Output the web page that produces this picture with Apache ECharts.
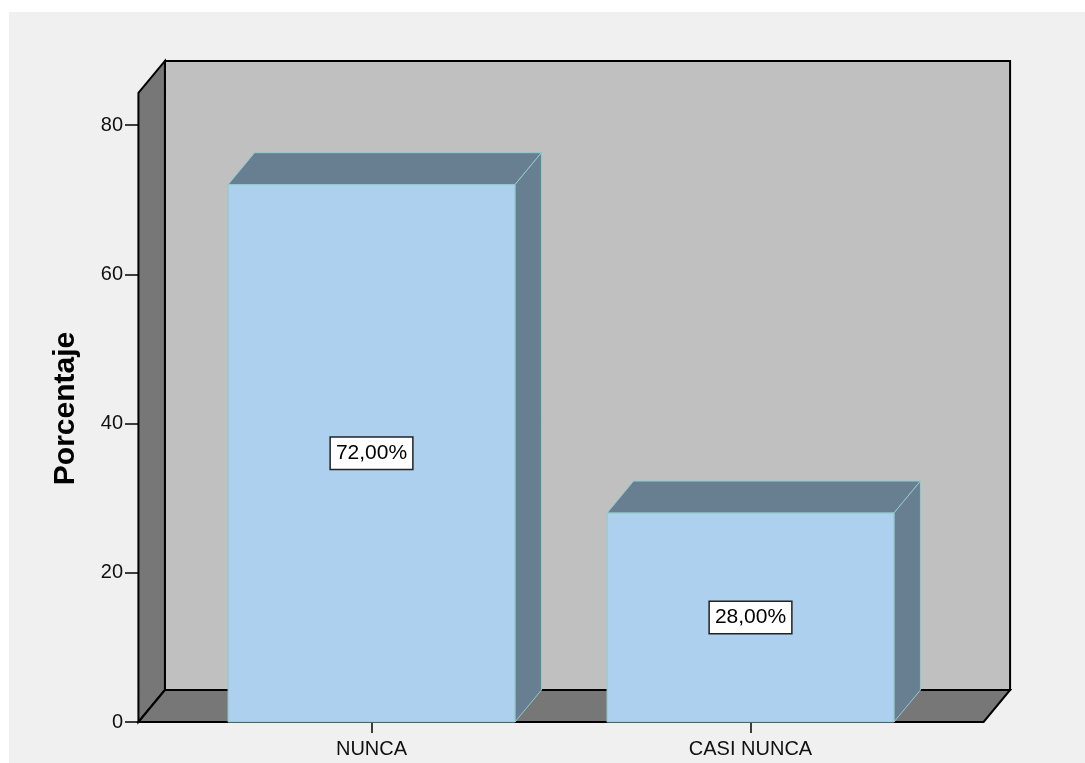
<!DOCTYPE html>
<html>
<head>
<meta charset="utf-8">
<script src="https://cdn.jsdelivr.net/npm/echarts@6/dist/echarts.min.js"></script>
<style>
  html, body { margin: 0; padding: 0; background: #ffffff; }
  #chart { width: 1085px; height: 763px; }
</style>
</head>
<body>
<div id="chart"></div>
<script>
// Porcentaje por categoría
const categories = ['NUNCA', 'CASI NUNCA'];
const percentages = [72, 28];
const yTicks = [0, 20, 40, 60, 80];

// Box decoration: wall height (in axis units) and the oblique depth offset (px)
const WALL_TOP = 84.3;
const DEPTH_X = 26.5;
const DEPTH_Y = -32;
const WALL_OVERHANG = 0.615;   // floor extends this many bands beyond outer categories
const BAR_RATIO = 0.757;       // bar width as a fraction of the band

const FONT = '"Liberation Sans", Arial, sans-serif';

function fmtPct(v) {
  return v.toFixed(2).replace('.', ',') + '%';
}

function renderBox(params, api) {
  const band = api.size([1, 0])[0];
  const first = api.coord([0, 0]);
  const last = api.coord([categories.length - 1, 0]);
  const top = api.coord([0, WALL_TOP])[1];
  const base = first[1];
  const left = first[0] - WALL_OVERHANG * band;
  const right = last[0] + WALL_OVERHANG * band;
  const dx = DEPTH_X, dy = DEPTH_Y;
  const line = { stroke: '#000000', lineWidth: 2, lineJoin: 'miter' };
  return {
    type: 'group',
    children: [
      { // back wall
        type: 'polygon',
        shape: { points: [[left + dx, top + dy], [right + dx, top + dy], [right + dx, base + dy], [left + dx, base + dy]] },
        style: Object.assign({ fill: '#c0c0c0' }, line)
      },
      { // left side wall
        type: 'polygon',
        shape: { points: [[left, top], [left + dx, top + dy], [left + dx, base + dy], [left, base]] },
        style: Object.assign({ fill: '#777777' }, line)
      },
      { // floor
        type: 'polygon',
        shape: { points: [[left, base], [left + dx, base + dy], [right + dx, base + dy], [right, base]] },
        style: Object.assign({ fill: '#777777' }, line)
      }
    ]
  };
}

function renderBar(params, api) {
  const idx = api.value(0);
  const val = api.value(1);
  const topPt = api.coord([idx, val]);
  const basePt = api.coord([idx, 0]);
  const w = api.size([1, 0])[0] * BAR_RATIO;
  const x0 = topPt[0] - w / 2, x1 = topPt[0] + w / 2;
  const yT = topPt[1], yB = basePt[1];
  const dx = DEPTH_X, dy = DEPTH_Y;
  const edge = { stroke: '#93c9cc', lineWidth: 1 };
  return {
    type: 'group',
    children: [
      { // top face
        type: 'polygon',
        shape: { points: [[x0, yT], [x0 + dx, yT + dy], [x1 + dx, yT + dy], [x1, yT]] },
        style: Object.assign({ fill: '#687f92' }, edge)
      },
      { // side face
        type: 'polygon',
        shape: { points: [[x1, yT], [x1 + dx, yT + dy], [x1 + dx, yB + dy], [x1, yB]] },
        style: Object.assign({ fill: '#687f92' }, edge)
      },
      { // front face
        type: 'rect',
        shape: { x: x0, y: yT, width: w, height: yB - yT },
        style: Object.assign({ fill: '#acd0ee' }, edge)
      },
      { // value label
        type: 'text',
        x: topPt[0],
        y: (yT + yB) / 2,
        style: {
          text: fmtPct(val),
          fontFamily: FONT,
          fontSize: 21,
          fill: '#000000',
          align: 'center',
          verticalAlign: 'middle',
          backgroundColor: '#ffffff',
          borderColor: '#222222',
          borderWidth: 1.5,
          padding: [6, 5, 4, 5]
        }
      }
    ]
  };
}

const chart = echarts.init(document.getElementById('chart'), null, { renderer: 'canvas' });

chart.setOption({
  backgroundColor: '#ffffff',
  animation: false,
  graphic: [{
    type: 'rect',
    left: 9, top: 12,
    shape: { width: 1076, height: 751 },
    style: { fill: '#f0f0f0' },
    z: -10
  }],
  grid: { left: 182, right: 145, top: 125, bottom: 41, containLabel: false },
  xAxis: {
    type: 'category',
    data: categories,
    axisLine: { show: false },
    axisTick: { show: true, alignWithLabel: true, length: 11, lineStyle: { color: '#000000', width: 1.5 } },
    axisLabel: { margin: 17, fontFamily: FONT, fontSize: 20, color: '#111111' },
    splitLine: { show: false }
  },
  yAxis: {
    type: 'value',
    min: 0, max: 80, interval: 20,
    offset: 44,
    name: 'Porcentaje',
    nameLocation: 'middle',
    nameGap: 57,
    nameRotate: 90,
    nameTextStyle: { fontFamily: FONT, fontSize: 30, fontWeight: 'bold', color: '#000000', padding: [0, 0, 0, 30] },
    axisLine: { show: false },
    axisTick: { show: true, length: 13, lineStyle: { color: '#000000', width: 1.5 } },
    axisLabel: {
      margin: 15, fontFamily: FONT, fontSize: 20, color: '#111111',
      formatter: function (v) { return yTicks.indexOf(v) >= 0 ? String(v) : ''; }
    },
    splitLine: { show: false }
  },
  series: [
    {
      type: 'custom',
      name: 'box',
      renderItem: renderBox,
      data: [[0, 0]],
      z: 1,
      silent: true
    },
    {
      type: 'custom',
      name: 'Porcentaje',
      renderItem: renderBar,
      data: categories.map(function (c, i) { return [i, percentages[i]]; }),
      encode: { x: 0, y: 1 },
      z: 2
    }
  ]
});
</script>
</body>
</html>
